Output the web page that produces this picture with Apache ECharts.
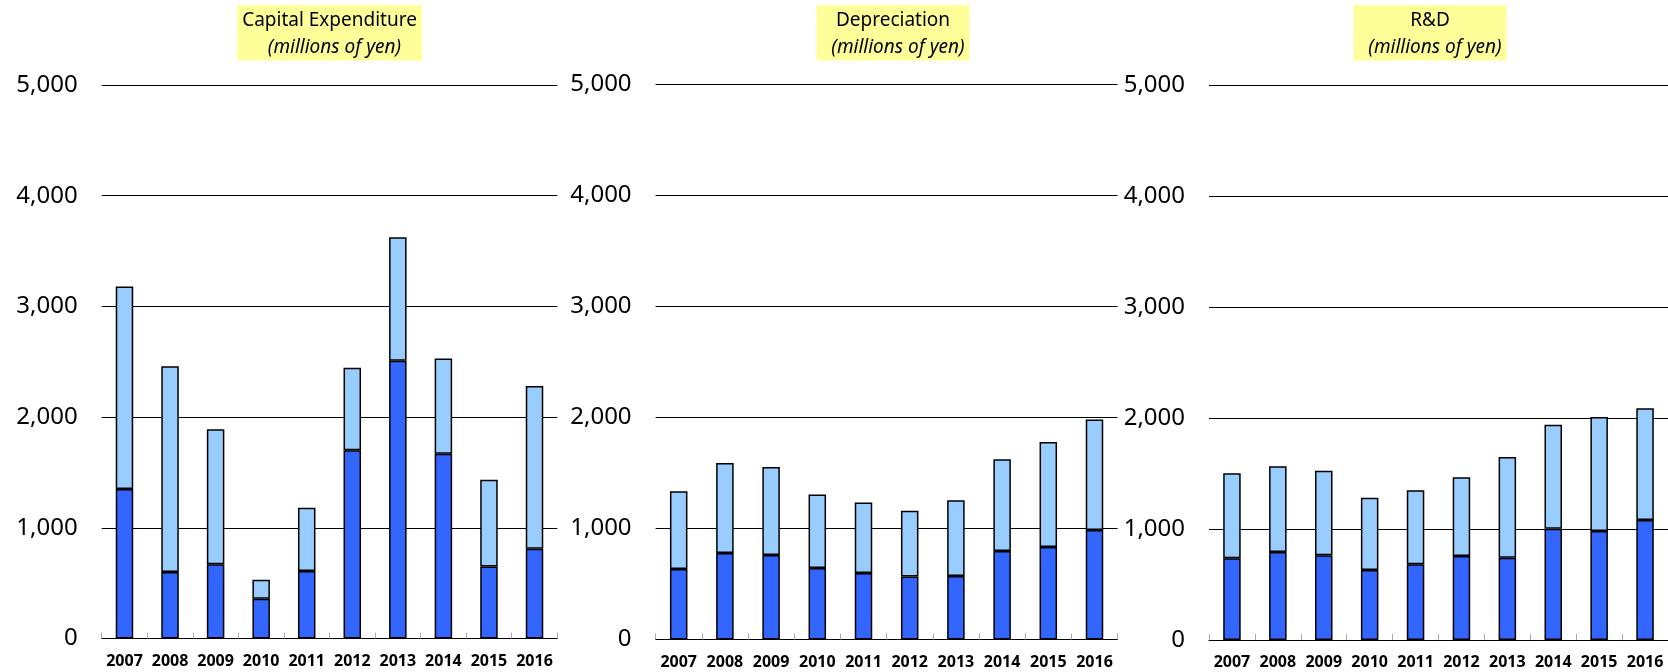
<!DOCTYPE html>
<html>
<head>
<meta charset="utf-8">
<style>
  html, body { margin: 0; padding: 0; background: #fff; }
  #chart { width: 1668px; height: 672px; }
</style>
<script src="https://cdn.jsdelivr.net/npm/echarts@6/dist/echarts.min.js"></script>
</head>
<body>
<div id="chart"></div>
<script>
// Fiscal years shown on every panel
const years = ['2007', '2008', '2009', '2010', '2011', '2012', '2013', '2014', '2015', '2016'];

// Value axis ticks (millions of yen)
const yTicks = [0, 1000, 2000, 3000, 4000, 5000];

// Capital expenditure: lower (dark) and upper (light) segments
const capexLower = [1350, 600, 670, 360, 610, 1700, 2510, 1670, 650, 810];
const capexUpper = [1830, 1860, 1220, 170, 570, 745, 1115, 860, 785, 1470];

// Depreciation: lower (dark) and upper (light) segments
const deprLower = [636, 780, 762, 645, 600, 568, 573, 798, 834, 987];
const deprUpper = [700, 811, 793, 661, 634, 591, 682, 826, 946, 995];

// R&D: lower (dark) and upper (light) segments
const rdLower = [737, 794, 764, 631, 683, 757, 742, 1004, 983, 1082];
const rdUpper = [766, 772, 763, 652, 667, 710, 908, 937, 1028, 1007];

const panelTitles = ['Capital Expenditure', 'Depreciation', 'R&D'];
const unitText = '(millions of yen)';

const FONT = '"Noto Sans", "DejaVu Sans", sans-serif';
const DARK = '#3366FF';
const LIGHT = '#99CCFF';

const panels = [
  { lower: capexLower, upper: capexUpper, grid: { left: 101.7, width: 455.6, top: 85, height: 553.5 }, titleX: 329.5 },
  { lower: deprLower, upper: deprUpper, grid: { left: 655.6, width: 462, top: 84.5, height: 555 }, titleX: 893 },
  { lower: rdLower, upper: rdUpper, grid: { left: 1209, width: 459, top: 85.5, height: 554.5 }, titleX: 1430 }
];

const grids = [], xAxes = [], yAxes = [], series = [], graphics = [];

panels.forEach((p, i) => {
  grids.push(Object.assign({ containLabel: false, outerBoundsMode: 'none' }, p.grid));

  xAxes.push({
    type: 'category',
    gridIndex: i,
    data: years,
    boundaryGap: true,
    axisLine: { show: true, lineStyle: { color: '#000', width: 1 } },
    axisTick: { show: true, inside: true, length: 6, interval: 0, lineStyle: { color: '#aaa', width: 1 } },
    axisLabel: { interval: 0, margin: 14.5, color: '#000', fontSize: 16, fontWeight: 'bold', fontFamily: FONT }
  });

  yAxes.push({
    type: 'value',
    gridIndex: i,
    min: yTicks[0],
    max: yTicks[yTicks.length - 1],
    interval: yTicks[1] - yTicks[0],
    axisLine: { show: false },
    axisTick: { show: false },
    axisLabel: {
      margin: 24,
      color: '#000',
      fontSize: 24,
      fontFamily: FONT,
      formatter: v => v.toLocaleString('en-US')
    },
    splitLine: { show: true, lineStyle: { color: '#000', width: 1 } }
  });

  const barStyle = c => ({ color: c, borderColor: '#000', borderWidth: 1.5 });
  series.push({
    type: 'bar', xAxisIndex: i, yAxisIndex: i, stack: 'p' + i,
    data: p.lower, barWidth: 17.5, itemStyle: barStyle(DARK), silent: true
  });
  series.push({
    type: 'bar', xAxisIndex: i, yAxisIndex: i, stack: 'p' + i,
    data: p.upper, barWidth: 17.5, itemStyle: barStyle(LIGHT), silent: true
  });

  graphics.push({
    type: 'text',
    x: p.titleX,
    y: 5,
    silent: true,
    style: {
      text: '{a|' + panelTitles[i] + '}\n{b|  ' + unitText + '}',
      align: 'center',
      verticalAlign: 'top',
      backgroundColor: '#FFFF99',
      padding: [2.5, 5, 0, 5],
      rich: {
        a: { fontSize: 19, fontFamily: FONT, lineHeight: 26.5, fill: '#000' },
        b: { fontSize: 19, fontFamily: FONT, fontStyle: 'italic', lineHeight: 26.5, fill: '#000' }
      }
    }
  });
});

const chart = echarts.init(document.getElementById('chart'), null, { renderer: 'canvas' });
chart.setOption({
  backgroundColor: '#fff',
  animation: false,
  grid: grids,
  xAxis: xAxes,
  yAxis: yAxes,
  series: series,
  graphic: graphics
});
</script>
</body>
</html>
